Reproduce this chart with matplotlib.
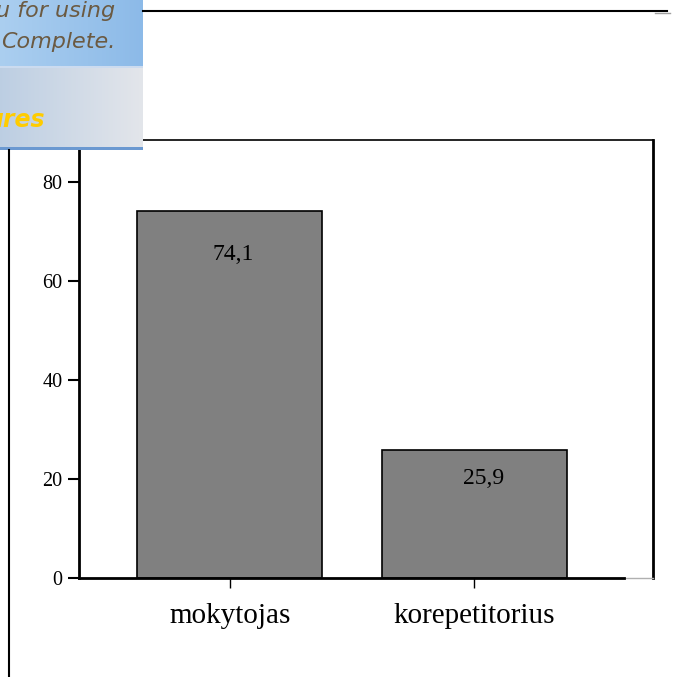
import matplotlib.pyplot as plt
import numpy as np
from matplotlib.lines import Line2D

# data
categories = ["mokytojas", "korepetitorius"]
values = [74.1, 25.9]
value_labels = ["74,1", "25,9"]
yticks = [0, 20, 40, 60, 80]

W, H = 676, 677
serif = ["Liberation Serif", "DejaVu Serif"]

fig = plt.figure(figsize=(W / 100, H / 100), dpi=100)

def fx(px):
    return px / W

def fy(py):
    return 1 - py / H

# plot area
ax = fig.add_axes([fx(79), fy(578), fx(653) - fx(79), fy(140) - fy(578)])
x = np.arange(len(categories))
ax.bar(x, values, width=0.755, color="#808080", edgecolor="black", linewidth=1.2, zorder=2)
ax.set_xlim(-0.616, 1.731)
ax.set_ylim(0, 88.5)

# value labels inside the bars (pixel offsets from the bar top)
label_offsets = [(4, -43), (9, -29)]
for xi, v, lab, off in zip(x, values, value_labels, label_offsets):
    ax.annotate(lab, (xi, v), xytext=(off[0] * 0.72, off[1] * 0.72), textcoords="offset points",
                ha="center", va="center", fontsize=17, family=serif)

ax.set_yticks(yticks)
ax.set_yticklabels([str(t) for t in yticks], family=serif, fontsize=14.5)
ax.set_xticks(x)
ax.set_xticklabels(categories, family=serif, fontsize=21)
ax.tick_params(axis="y", direction="out", length=8, width=1.5, pad=4)
ax.tick_params(axis="x", direction="out", length=7, width=1, pad=11)

ax.spines["left"].set_linewidth(2)
ax.spines["top"].set_linewidth(1.2)
ax.spines["right"].set_linewidth(2)
ax.spines["bottom"].set_linewidth(1)
ax.spines["bottom"].set_color("#b0b0b0")
ax.plot([0, 0.95], [0, 0], transform=ax.transAxes, color="black", lw=2, clip_on=False, zorder=3)

# outer frame lines
fig.add_artist(Line2D([fx(143), fx(667)], [fy(11), fy(11)], color="black", lw=1.5))
fig.add_artist(Line2D([fx(655), fx(670)], [fy(12.5), fy(12.5)], color="#a0a0a0", lw=1))
fig.add_artist(Line2D([fx(9), fx(9)], [fy(150), fy(677)], color="black", lw=1.5))

# watermark banner in the top-left corner
wm = fig.add_axes([0, fy(150), fx(143), 1 - fy(150)])
wm.set_axis_off()
grad = np.linspace(0, 1, 100)
top_c0, top_c1 = np.array([0.67, 0.81, 0.94]), np.array([0.55, 0.73, 0.91])
bot_c0, bot_c1 = np.array([0.74, 0.81, 0.89]), np.array([0.89, 0.90, 0.92])
img = np.zeros((150, 100, 3))
img[:66] = top_c0 + (top_c1 - top_c0) * grad[None, :, None]
img[66:147] = bot_c0 + (bot_c1 - bot_c0) * grad[None, :, None]
img[66:68] = [0.80, 0.86, 0.94]
img[147:] = [0.42, 0.60, 0.82]
wm.imshow(img, aspect="auto", extent=[0, 143, 150, 0], interpolation="bilinear")
wm.set_xlim(0, 143)
wm.set_ylim(150, 0)
wm.text(115, 17, "u for using", ha="right", va="baseline", fontsize=16, style="italic",
        color="#6b5a42", family="DejaVu Sans")
wm.text(115, 48, "Complete.", ha="right", va="baseline", fontsize=16, style="italic",
        color="#6b5a42", family="DejaVu Sans")
wm.text(45, 127, "ures", ha="right", va="baseline", fontsize=17, style="italic", weight="bold",
        color="#ffcc00", family="DejaVu Sans")

fig.savefig("out.png", dpi=100)
